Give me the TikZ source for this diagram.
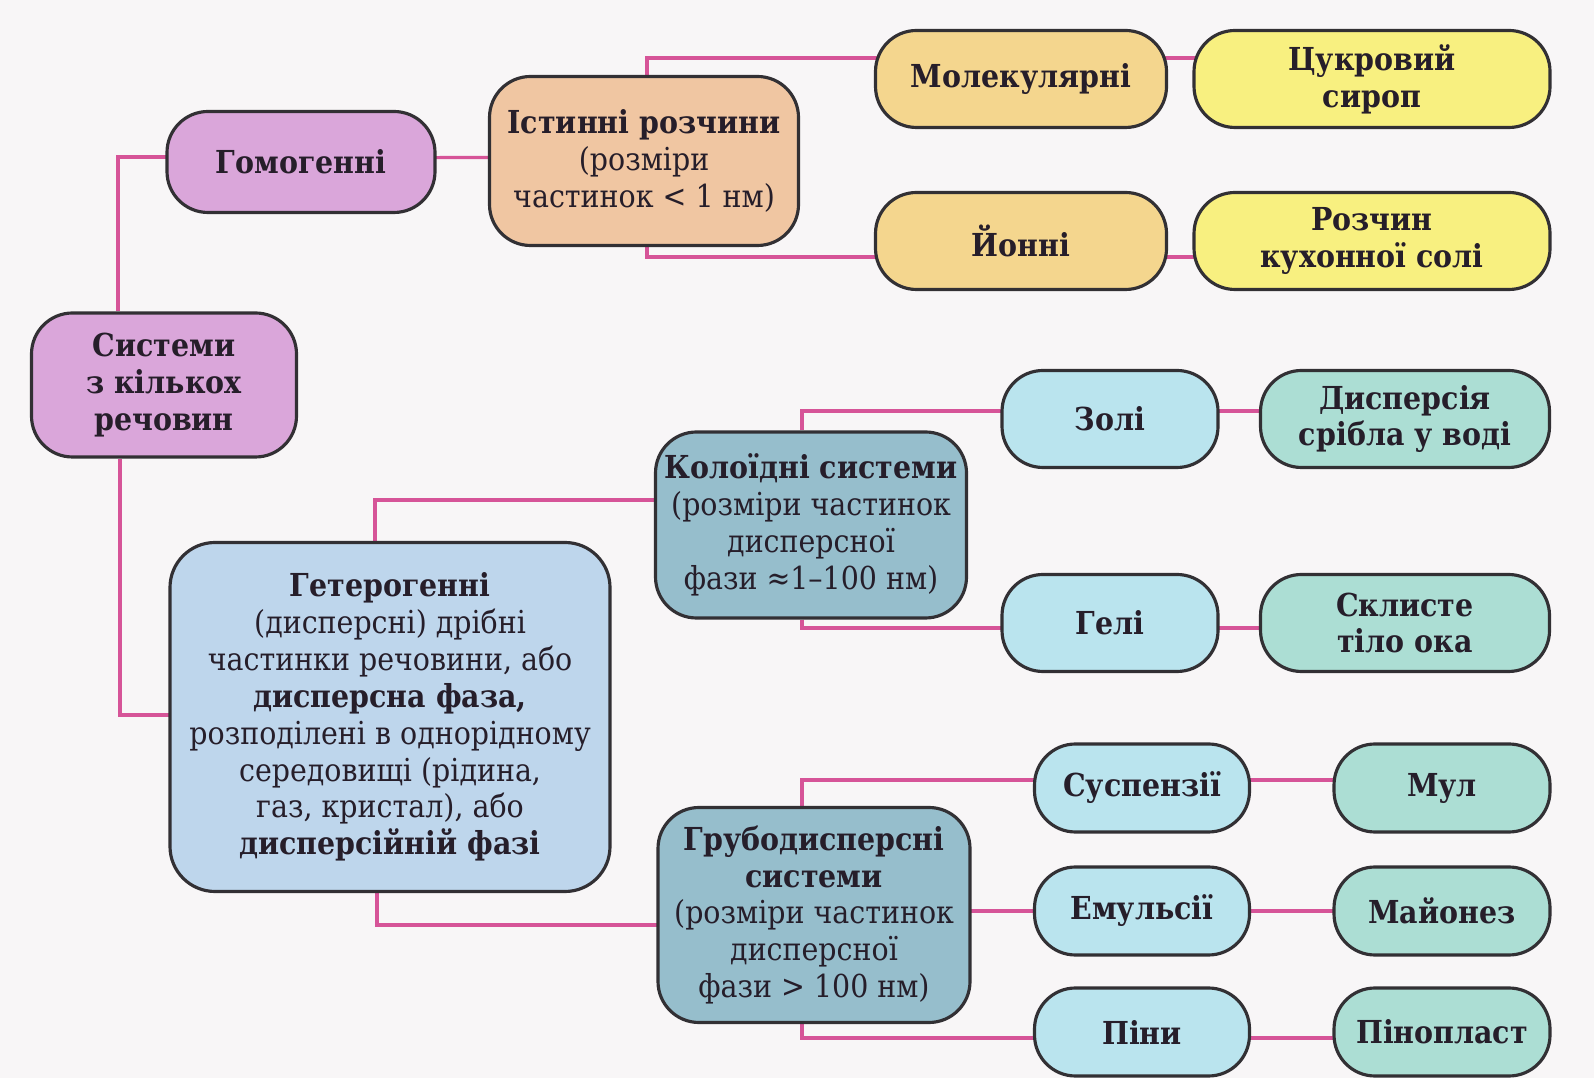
\documentclass[tikz,border=0pt]{standalone}
\usepackage{fontspec}
\setmainfont{DejaVuSerifCondensed}[Extension=.ttf,BoldFont=*-Bold]
\usepackage{tikz}
\usetikzlibrary{backgrounds}
\definecolor{bgcol}{RGB}{248,246,247}
\definecolor{boxline}{RGB}{50,48,52}
\definecolor{txt}{RGB}{38,30,42}
\definecolor{linkpink}{RGB}{214,84,152}
\definecolor{violetfill}{RGB}{218,166,218}
\definecolor{peachfill}{RGB}{240,198,162}
\definecolor{tanfill}{RGB}{244,214,142}
\definecolor{yellowfill}{RGB}{248,240,128}
\definecolor{cyanfill}{RGB}{186,228,238}
\definecolor{tealfill}{RGB}{172,222,212}
\definecolor{steelfill}{RGB}{150,190,204}
\definecolor{lightbluefill}{RGB}{190,214,236}
\tikzstyle{box}=[rectangle,rounded corners=0.41cm,draw=boxline,line width=0.9pt,align=center,inner sep=2pt,text=txt,font=\fontsize{9pt}{10.5pt}\selectfont\bfseries]
\tikzstyle{violetbox}=[box,fill=violetfill]
\tikzstyle{peachbox}=[box,fill=peachfill]
\tikzstyle{tanbox}=[box,fill=tanfill]
\tikzstyle{yellowbox}=[box,fill=yellowfill]
\tikzstyle{cyanbox}=[box,fill=cyanfill]
\tikzstyle{tealbox}=[box,fill=tealfill]
\tikzstyle{steelbox}=[box,fill=steelfill]
\tikzstyle{lightbox}=[box,fill=lightbluefill,rounded corners=0.45cm]
\tikzstyle{link}=[draw=linkpink,line width=0.9pt]

\begin{document}
\begin{tikzpicture}[x=1cm,y=-1cm]

\useasboundingbox (0,0) rectangle (15.94,10.78);

%root
\node[violetbox,minimum width=2.65cm,minimum height=1.44cm] (sys) at (1.64,3.85) {Системи\\з кількох\\речовин};

%layer 1
\node[violetbox,minimum width=2.68cm,minimum height=1.01cm] (gom) at (3.01,1.62) {Гомогенні};
\node[lightbox,minimum width=4.40cm,minimum height=3.49cm] (het) at (3.90,7.17)
  {Гетерогенні\\{\mdseries(дисперсні) дрібні}\\{\mdseries частинки речовини, або}\\дисперсна фаза,\\{\mdseries розподілені в однорідному}\\{\mdseries середовищі (рідина,}\\{\mdseries газ, кристал), або}\\дисперсійній фазі};

%layer 2
\node[peachbox,minimum width=3.09cm,minimum height=1.69cm] (ist) at (6.44,1.61)
  {Істинні розчини\\{\mdseries(розміри}\\{\mdseries частинок < 1 нм)}};
\node[steelbox,minimum width=3.11cm,minimum height=1.86cm] (kol) at (8.11,5.25)
  {Колоїдні системи\\{\mdseries(розміри частинок}\\{\mdseries дисперсної}\\{\mdseries фази ≈1–100 нм)}};
\node[steelbox,minimum width=3.12cm,minimum height=2.15cm] (gru) at (8.14,9.15)
  {Грубодисперсні\\системи\\{\mdseries(розміри частинок}\\{\mdseries дисперсної}\\{\mdseries фази > 100 нм)}};

%layer 3
\foreach \pos/\name/\label in {{(10.21,0.79)/mol/Молекулярні}, {(10.21,2.41)/ion/Йонні}}
    \node[tanbox,minimum width=2.91cm,minimum height=0.97cm] (\name) at \pos {\label};
\foreach \pos/\name/\label in {{(11.10,4.19)/zol/Золі}, {(11.10,6.23)/gel/Гелі}}
    \node[cyanbox,minimum width=2.16cm,minimum height=0.97cm] (\name) at \pos {\label};
\foreach \pos/\name/\label in {{(11.42,7.88)/sus/Суспензії}, {(11.42,9.11)/emu/Емульсії}, {(11.42,10.32)/pin/Піни}}
    \node[cyanbox,minimum width=2.15cm,minimum height=0.88cm] (\name) at \pos {\label};

%layer 4
\foreach \pos/\name/\label in {{(13.72,0.79)/suc/{Цукровий\\сироп}}, {(13.72,2.41)/sol/{Розчин\\кухонної солі}}}
    \node[yellowbox,minimum width=3.56cm,minimum height=0.97cm] (\name) at \pos {\label};
\foreach \pos/\name/\label in {{(14.05,4.19)/dsp/{Дисперсія\\срібла у воді}}, {(14.05,6.23)/skl/{Склисте\\тіло ока}}}
    \node[tealbox,minimum width=2.89cm,minimum height=0.97cm] (\name) at \pos {\label};
\foreach \pos/\name/\label in {{(14.42,7.88)/mul/Мул}, {(14.42,9.11)/may/Майонез}, {(14.42,10.32)/pnp/Пінопласт}}
    \node[tealbox,minimum width=2.16cm,minimum height=0.88cm] (\name) at \pos {\label};

% Connect boxes, behind them
\begin{scope}[on background layer]
  \fill[bgcol] (0,0) rectangle (15.94,10.78);
  \path[link] ([xshift=-0.46cm]sys.north) |- ([yshift=0.05cm]gom.center);
  \path[link] ([xshift=-0.44cm]sys.south) |- ([yshift=0.02cm]het.center);
  \path[link] ([yshift=0.04cm]gom.center) -- ([yshift=0.04cm]ist.center);
  \path[link] ([xshift=0.03cm]ist.north) |- ([yshift=0.21cm]mol.center);
  \path[link] ([xshift=0.03cm]ist.south) |- ([yshift=-0.16cm]ion.center);
  \path[link] ([xshift=-0.15cm]het.north) |- ([yshift=0.25cm]kol.center);
  \path[link] ([xshift=-0.13cm]het.south) |- ([yshift=-0.10cm]gru.center);
  \path[link] ([xshift=-0.09cm]kol.north) |- ([yshift=0.08cm]zol.center);
  \path[link] ([xshift=-0.09cm]kol.south) |- ([yshift=-0.05cm]gel.center);
  \path[link] ([xshift=-0.12cm]gru.north) |- ([yshift=0.08cm]sus.center);
  \path[link] ([xshift=-0.12cm]gru.south) |- ([yshift=-0.06cm]pin.center);
  \path[link] (gru.center |- emu.center) -- (emu.center);
  \foreach \source/ \dest /\dy in {mol/suc/0.21, ion/sol/-0.16, zol/dsp/0.08, gel/skl/-0.05, sus/mul/0.08, emu/may/0, pin/pnp/-0.06}
    \path[link] ([yshift=\dy cm]\source.center) -- ([yshift=\dy cm]\dest.center);
\end{scope}

\end{tikzpicture}
\end{document}
